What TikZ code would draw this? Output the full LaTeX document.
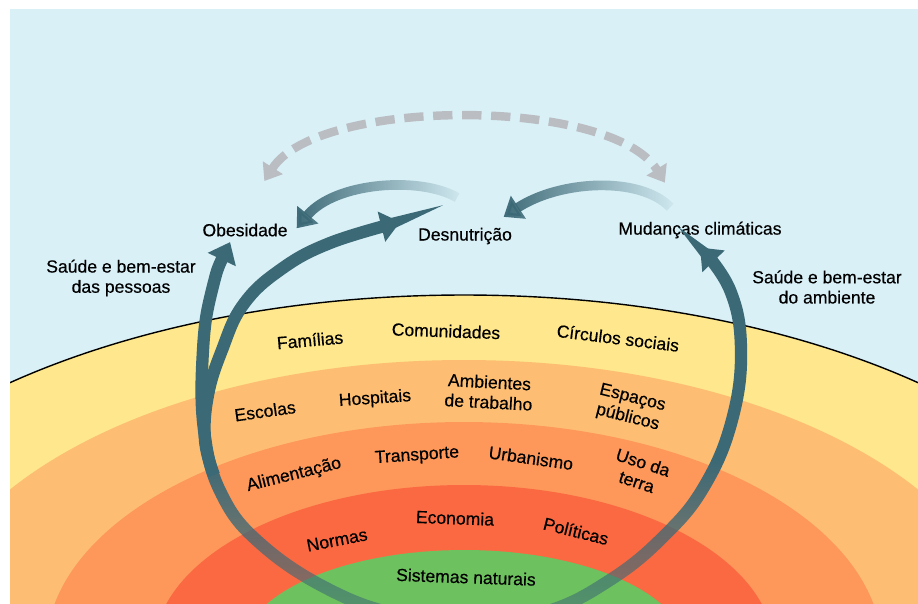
\documentclass[tikz,border=0pt]{standalone}
\usepackage{fontspec}
\setmainfont{Liberation Sans}[FakeBold=0.4]
\usetikzlibrary{arrows.meta,fadings}

\definecolor{himmel}{RGB}{217,240,247}
\definecolor{gelb}{RGB}{254,231,140}
\definecolor{hellorange}{RGB}{253,190,115}
\definecolor{orange}{RGB}{253,152,90}
\definecolor{rot}{RGB}{251,105,66}
\definecolor{gruen}{RGB}{110,193,95}
\definecolor{petrol}{RGB}{60,105,118}
\definecolor{strichgrau}{RGB}{186,190,195}

\begin{tikzfadingfrompicture}[name=nachunten]
  \fill[transparent!0] (0,0) rectangle (400bp,140bp);
  \shade[top color=transparent!0, bottom color=transparent!80] (0,-140bp) rectangle (400bp,0);
\end{tikzfadingfrompicture}
\tikzfading[name=nachlinks, left color=transparent!0, right color=transparent!95]

\begin{document}
\begin{tikzpicture}[x=0.02cm, y=-0.02cm,
      schrift/.style={inner sep=1pt, font=\fontsize{10}{11.5}\selectfont, align=center, text=black},
      pfeil/.style={draw=petrol, line width=7pt, -{Triangle[width=17pt,length=11pt]}},
      kleinpfeil/.style={draw=petrol, line width=5.5pt, -{Triangle[width=15pt,length=10pt]}},
      strichpfeil/.style={draw=strichgrau, line width=4.8pt, dash pattern=on 11pt off 5.5pt,
        {Triangle[width=13pt,length=9pt]}-{Triangle[width=13pt,length=9pt]}}]

\useasboundingbox (0,0) rectangle (918,603);
\fill[white] (0,0) rectangle (918,603);

\begin{scope}
\clip (10,9) rectangle (918,603);
\fill[himmel] (10,9) rectangle (918,603);
\filldraw[fill=gelb, draw=black, line width=0.8pt] (464,650) ellipse [x radius=690, y radius=355];
\fill[hellorange] (464,650) ellipse [x radius=545, y radius=290];
\fill[orange] (464,650) ellipse [x radius=418, y radius=228];
\fill[rot] (464,650) ellipse [x radius=310, y radius=165];
\fill[gruen] (464,650) ellipse [x radius=222, y radius=100];

\node[schrift] (obes) at (245,230) {Obesidade};
\node[schrift] (desn) at (465,236) {Desnutrição};
\node[schrift] (klima) at (700,230) {Mudanças climáticas};
\node[schrift] (pessoas) at (121,278) {Saúde e bem-estar\\das pessoas};
\node[schrift] (ambiente) at (827,287) {Saúde e bem-estar\\do ambiente};

\node[schrift, rotate=5] (fam) at (310,340) {Famílias};
\node[schrift, rotate=-2] (com) at (446,331) {Comunidades};
\node[schrift, rotate=-7] (circ) at (618,338) {Círculos sociais};
\node[schrift, rotate=8] (esc) at (265,411) {Escolas};
\node[schrift, rotate=4] (hosp) at (375,399) {Hospitais};
\node[schrift, rotate=-3] (amb) at (489,392) {Ambientes\\de trabalho};
\node[schrift, rotate=-14] (esp) at (630,408) {Espaços\\públicos};
\node[schrift, rotate=14] (alim) at (294,475) {Alimentação};
\node[schrift, rotate=4] (trans) at (417,456) {Transporte};
\node[schrift, rotate=-8] (urb) at (531,458) {Urbanismo};
\node[schrift, rotate=-18] (uso) at (640,472) {Uso da\\terra};
\node[schrift, rotate=11] (norm) at (337,540) {Normas};
\node[schrift, rotate=-2] (econ) at (455,518) {Economia};
\node[schrift, rotate=-14] (pol) at (576,531) {Políticas};
\node[schrift, rotate=-2] (sist) at (466,577) {Sistemas naturais};

\draw[pfeil, path fading=nachunten, fit fading=false, fading transform={shift={(470,460)}},
  {Triangle[width=17pt,length=11pt]}-{Triangle[width=17pt,length=11pt]}]
  plot[smooth, tension=0.7] coordinates {([xshift=-8.5pt,yshift=-2pt]obes.south) (212,290) (203,350) (204,430)
  (222,495) (262,545) (330,590) (400,615) (470,622) (545,612) (610,580) (665,535) (705,485)
  (732,420) (741,350) (730,290) ([yshift=-4pt]klima.south)};
\draw[pfeil] plot[smooth, tension=0.7] coordinates {(214,475) (205,440) (208,395) (222,350) (243,305) (280,270)
  (330,243) ([xshift=-9pt,yshift=8pt]desn.west)};
\end{scope}

\draw[kleinpfeil, path fading=nachlinks] ([xshift=-4.5pt,yshift=16pt]desn.north) .. controls (420,176) and (335,182) .. ([xshift=4pt,yshift=1pt]obes.east);
\draw[kleinpfeil, path fading=nachlinks] ([xshift=-17pt,yshift=7pt]klima.north) .. controls (640,176) and (560,180) .. ([xshift=22pt,yshift=5pt]desn.north);
\draw[strichpfeil] ([xshift=11pt,yshift=23pt]obes.north) .. controls (318,97) and (612,97) .. ([xshift=-20pt,yshift=21pt]klima.north);

\end{tikzpicture}
\end{document}
